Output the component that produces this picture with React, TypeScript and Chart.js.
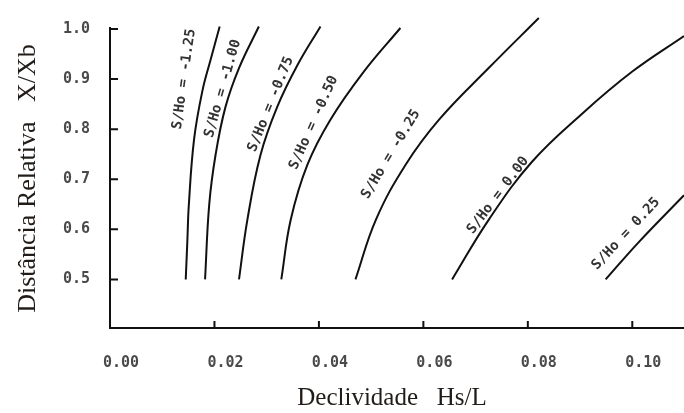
import React, { useEffect, useRef } from "react";
import { Chart, registerables } from "chart.js";

Chart.register(...registerables);

// S/Ho curve identifiers
const ratios = ["-1.25", "-1.00", "-0.75", "-0.50", "-0.25", "0.00", "0.25"];

// Curve points (x = Hs/L, y = X/Xb)
const curveM125X = [0.0145, 0.0148, 0.0151, 0.0161, 0.0177, 0.0193, 0.021];
const curveM125Y = [0.5, 0.574, 0.65, 0.78, 0.877, 0.94, 1.005];
const curveM100X = [0.0182, 0.019, 0.0202, 0.0221, 0.0247, 0.0285];
const curveM100Y = [0.5, 0.65, 0.748, 0.844, 0.922, 1.005];
const curveM075X = [0.0247, 0.0263, 0.0288, 0.032, 0.0359, 0.0403];
const curveM075Y = [0.5, 0.619, 0.748, 0.844, 0.928, 1.005];
const curveM050X = [0.0328, 0.0346, 0.0378, 0.0422, 0.0486, 0.0556];
const curveM050Y = [0.5, 0.619, 0.729, 0.819, 0.915, 1.002];
const curveM025X = [0.047, 0.0509, 0.0566, 0.063, 0.0725, 0.0821];
const curveM025Y = [0.5, 0.619, 0.729, 0.819, 0.922, 1.022];
const curveP000X = [0.0655, 0.0725, 0.0808, 0.0904, 0.1, 0.1099];
const curveP000Y = [0.5, 0.619, 0.735, 0.831, 0.915, 0.986];
const curveP025X = [0.0949, 0.1012, 0.1099];
const curveP025Y = [0.5, 0.574, 0.668];

const curvesX = [curveM125X, curveM100X, curveM075X, curveM050X, curveM025X, curveP000X, curveP025X];
const curvesY = [curveM125Y, curveM100Y, curveM075Y, curveM050Y, curveM025Y, curveP000Y, curveP025Y];

// Curve label anchors (data coords) and text angle (deg)
const labelX = [0.0142, 0.0216, 0.0308, 0.039, 0.0538, 0.0743, 0.0988];
const labelY = [0.9, 0.881, 0.85, 0.813, 0.75, 0.668, 0.591];
const labelAngle = [-82, -74, -68, -66, -59, -53, -47];

// Axis ticks
const xTicks = [0.0, 0.02, 0.04, 0.06, 0.08, 0.1];
const yTicks = [0.5, 0.6, 0.7, 0.8, 0.9, 1.0];

const xTitle = "Declividade   Hs/L";
const yTitle = "Distância Relativa   X/Xb";

const overlayPlugin = {
  id: "overlay",
  afterDatasetsDraw(chart: any) {
    const { ctx, chartArea, scales } = chart;
    const xs = scales.x;
    const ys = scales.y;
    ctx.save();
    // axes
    ctx.strokeStyle = "#111";
    ctx.lineWidth = 2;
    ctx.beginPath();
    ctx.moveTo(chartArea.left, chartArea.top - 2);
    ctx.lineTo(chartArea.left, chartArea.bottom);
    ctx.lineTo(chartArea.right, chartArea.bottom);
    ctx.stroke();
    // inner tick marks
    ctx.beginPath();
    yTicks.forEach((v) => {
      const py = ys.getPixelForValue(v);
      ctx.moveTo(chartArea.left, py);
      ctx.lineTo(chartArea.left + 8, py);
    });
    xTicks.forEach((v) => {
      if (v === 0) return;
      const px = xs.getPixelForValue(v);
      ctx.moveTo(px, chartArea.bottom);
      ctx.lineTo(px, chartArea.bottom - 7);
    });
    ctx.stroke();
    // curve labels
    ctx.fillStyle = "#333";
    ctx.font = "bold 14px 'DejaVu Sans Mono'";
    ctx.textAlign = "center";
    ctx.textBaseline = "middle";
    ratios.forEach((r, i) => {
      const px = xs.getPixelForValue(labelX[i]);
      const py = ys.getPixelForValue(labelY[i]);
      ctx.save();
      ctx.translate(px, py);
      ctx.rotate((labelAngle[i] * Math.PI) / 180);
      ctx.fillText("S/Ho = " + r, 0, 0);
      ctx.restore();
    });
    // axis titles
    ctx.fillStyle = "#211c18";
    ctx.font = "25px 'Liberation Serif'";
    ctx.textAlign = "center";
    ctx.textBaseline = "alphabetic";
    ctx.fillText(xTitle, 392, 405);
    ctx.font = "26px 'Liberation Serif'";
    ctx.save();
    ctx.translate(35, (chartArea.top + chartArea.bottom) / 2);
    ctx.rotate(-Math.PI / 2);
    ctx.fillText(yTitle, 0, 0);
    ctx.restore();
    ctx.restore();
  },
};

export default function App() {
  const ref = useRef<HTMLCanvasElement | null>(null);
  useEffect(() => {
    if (!ref.current) return;
    const datasets = ratios.map((r, i) => ({
      label: "S/Ho = " + r,
      data: curvesX[i].map((x, j) => ({ x, y: curvesY[i][j] })),
      borderColor: "#111",
      borderWidth: 2,
      pointRadius: 0,
      fill: false,
      tension: 0.4,
      clip: false as any,
    }));
    const chart = new Chart(ref.current, {
      type: "line",
      data: { datasets },
      plugins: [overlayPlugin],
      options: {
        animation: false,
        responsive: false,
        layout: { padding: { top: 20, left: 0, right: 0, bottom: 0 } },
        plugins: { legend: { display: false }, tooltip: { enabled: false } },
        scales: {
          x: {
            type: "linear",
            min: 0,
            max: 0.1099,
            grid: { display: false, drawTicks: false },
            border: { display: false },
            afterBuildTicks: (s: any) => {
              s.ticks = xTicks.map((v) => ({ value: v }));
            },
            afterFit: (s: any) => {
              s.height = 85;
            },
            ticks: {
              padding: 26,
              labelOffset: 11,
              color: "#4a4a4a",
              font: { family: "'DejaVu Sans Mono'", size: 15, weight: "bold" },
              callback: (v: any) => Number(v).toFixed(2),
            },
          },
          y: {
            type: "linear",
            min: 0.403,
            max: 1.0,
            grid: { display: false, drawTicks: false },
            border: { display: false },
            afterBuildTicks: (s: any) => {
              s.ticks = yTicks.map((v) => ({ value: v }));
            },
            afterFit: (s: any) => {
              s.width = 110;
            },
            ticks: {
              padding: 20,
              color: "#4a4a4a",
              font: { family: "'DejaVu Sans Mono'", size: 15, weight: "bold" },
              callback: (v: any) => Number(v).toFixed(1),
            },
          },
        },
      },
    });
    return () => chart.destroy();
  }, []);
  return (
    <div style={{ position: "absolute", left: 0, top: 0, width: 684, height: 413, background: "#fff" }}>
      <canvas ref={ref} width={684} height={413} style={{ display: "block" }} />
    </div>
  );
}
